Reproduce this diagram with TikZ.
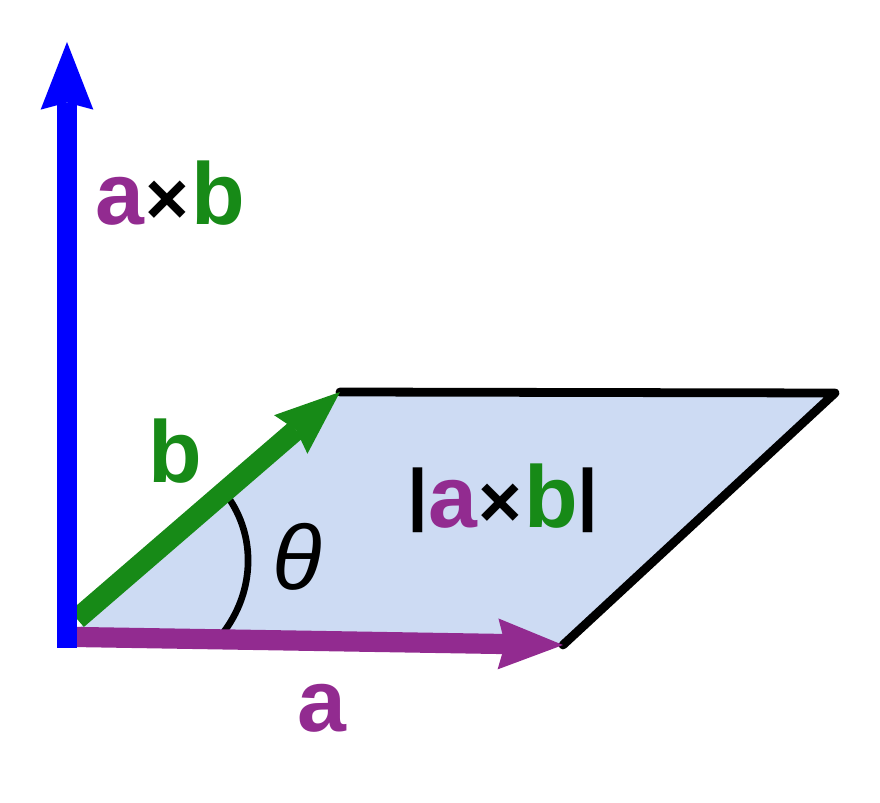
\documentclass[tikz,border=0pt]{standalone}
\usepackage{fontspec}
\setmainfont{Liberation Sans}
\usetikzlibrary{arrows.meta}
\definecolor{vecA}{RGB}{146,43,144}
\definecolor{vecB}{RGB}{23,138,23}
\definecolor{vecN}{RGB}{0,0,255}
\definecolor{areaFill}{RGB}{205,219,243}
\newcommand{\crossx}{\kern0.02em\scalebox{0.85}{×}\kern0.02em}
\newcommand{\normbar}{\raisebox{0.12em}{\scalebox{0.85}[0.78]{|}}}
\tikzset{
  vec/.style={line width=#1, -{Stealth[length=37pt,width=29pt,inset=4pt,line width=0pt]}},
  lbl/.style={font=\fontsize{50}{50}\bfseries\selectfont, anchor=base, inner sep=0pt},
}

\begin{document}
\begin{tikzpicture}[x=0.02cm,y=-0.02cm]
    \useasboundingbox (0,0) rectangle (880,803);

    \coordinate (O) at (77,630);
    \coordinate (Atip) at (563,645);
    \coordinate (Btip) at (340,392);
    \coordinate (C) at (835,393);

    \fill [areaFill] (O) -- (Atip) -- (C) -- (Btip) -- cycle;
    \draw [black, line width=5pt, line cap=round, line join=round] (Btip) -- (C) -- (Atip);

    \coordinate (arcS) at (223,633);
    \coordinate (arcE) at (230,500);
    \draw [black, line width=3.8pt] (arcS) .. controls (253,594) and (257,541) .. (arcE);

    \coordinate (Bstart) at (77,619);
    \draw [vecB, vec=12pt] (Bstart) -- (Btip);
    \coordinate (Astart) at (77,637);
    \draw [vecA, vec=11.5pt] (Astart) -- (Atip);
    \coordinate (Nstart) at (67,648);
    \coordinate (Ntip) at (67,42);
    \draw [vecN, line width=11.5pt, -{Stealth[length=38.5pt,width=30pt,inset=4pt,line width=0pt]}] (Nstart) -- (Ntip);

    \node [lbl] (cross) at (170,225) {\textcolor{vecA}{a}\crossx\textcolor{vecB}{b}};
    \node [lbl, text=vecB] (blabel) at (175,483) {b};
    \node [lbl, text=vecA] (alabel) at (322,732) {a};
    \node [lbl] (area) at (503,528) {\normbar\textcolor{vecA}{a}\crossx\textcolor{vecB}{b}\normbar};
    \node [font=\fontsize{52}{52}\itshape\selectfont, anchor=base, inner sep=0pt] (theta) at (297,590) {θ};
\end{tikzpicture}
\end{document}
